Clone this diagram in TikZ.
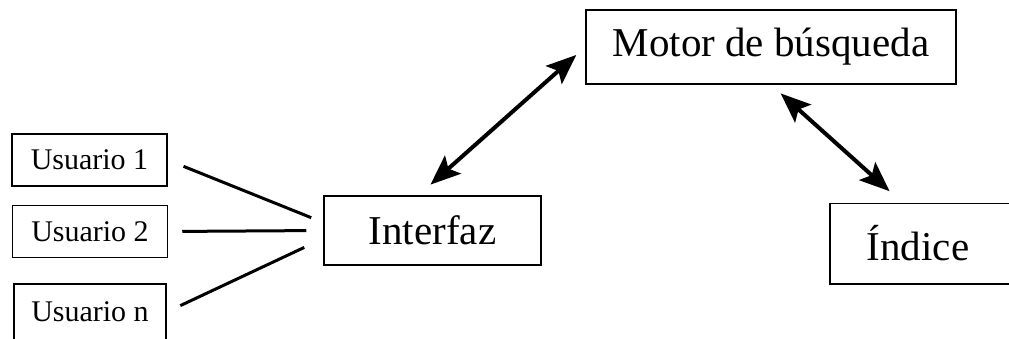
\documentclass[tikz,border=0pt]{standalone}
\usepackage{fontspec}
\setmainfont{Liberation Serif}
\usetikzlibrary{arrows.meta,positioning}

\begin{document}
\begin{tikzpicture}[x=1pt,y=1pt,
    usrbox/.style={draw, line width=1.5pt, minimum width=155pt, minimum height=52pt,
        inner sep=0pt, font=\fontsize{30}{36}\selectfont},
    bigbox/.style={draw, line width=1.5pt, inner sep=0pt, font=\fontsize{41}{49}\selectfont},
    link/.style={line width=3pt},
    flow/.style={line width=4pt,
        {Stealth[length=30pt,width=24pt,inset=6pt]}-{Stealth[length=30pt,width=24pt,inset=6pt]}}]
    % Frame
    \useasboundingbox (0,0) rectangle (1009,338);
    \clip (0,0) rectangle (1009,338);

    % Users
    \node[usrbox] (u1) at (89.5,178) {Usuario 1};
    \node[usrbox] (u2) at (90,106.5) {Usuario 2};
    \node[usrbox, minimum width=152pt, minimum height=56pt] (un) at (90,26) {Usuario n};

    % Main blocks
    \node[bigbox, minimum width=217pt, minimum height=69pt] (interfaz) at (432.5,107.5) {Interfaz};
    \node[bigbox, minimum width=370pt, minimum height=74pt] (motor) at (771,291) {Motor de búsqueda};
    \node[bigbox, draw=none, anchor=west, minimum height=79pt, inner xsep=36pt,
        text width=160pt, align=left] (indice) at (830,94.5) {Índice};
    % index box runs off the right edge
    \draw[line width=1.5pt] (indice.north east) -- (indice.north west)
        -- (indice.south west) -- (indice.south east);

    % Users to interface
    \draw[link, shorten <=17pt, shorten >=13pt] (u1.east) -- ([yshift=8pt]interfaz.west);
    \draw[link, shorten <=14pt, shorten >=17pt] (u2.east) -- (interfaz.west);
    \draw[link, shorten <=15pt, shorten >=21pt] (un.east) -- ([yshift=-8pt]interfaz.west);

    % Interface <-> engine <-> index
    \draw[flow, shorten <=16pt, shorten >=12pt] ([xshift=-14pt]interfaz.north) -- (motor.west);
    \draw[flow, shorten <=13pt, shorten >=18pt] (motor.south) -- ([xshift=73pt]indice.north west);
\end{tikzpicture}
\end{document}
